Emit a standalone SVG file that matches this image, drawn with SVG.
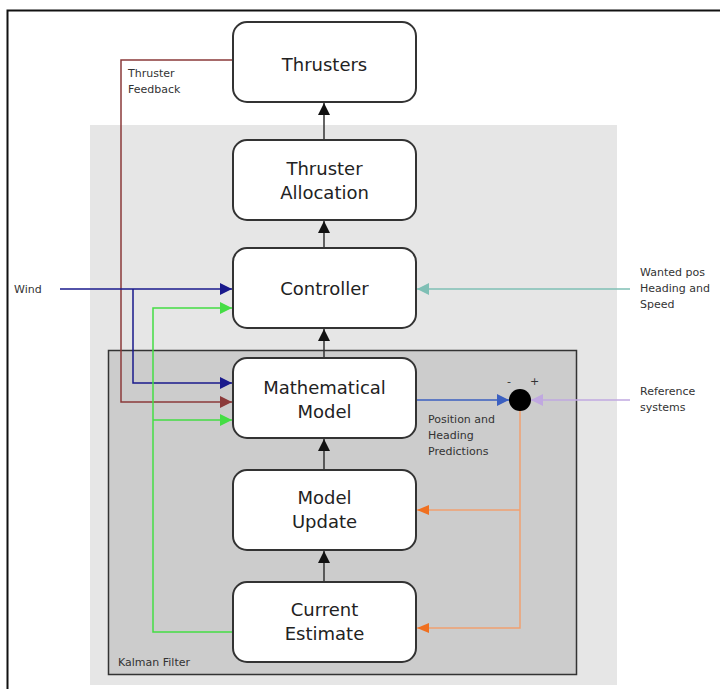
<svg xmlns="http://www.w3.org/2000/svg" width="720" height="689" viewBox="0 0 720 689">
<defs>
<style>
.node rect{fill:#fff;stroke:#333;stroke-width:2}
.node text{font-family:"DejaVu Sans",sans-serif;font-size:18px;fill:#222;text-anchor:middle}
.lbl{font-family:"DejaVu Sans",sans-serif;font-size:11px;fill:#333}
.c{fill:none;stroke-width:1.5}
</style>
<marker id="ak" viewBox="0 0 10 10" refX="10" refY="5" markerWidth="12" markerHeight="12" markerUnits="userSpaceOnUse" orient="auto"><path d="M0,0L10,5L0,10z" fill="#111"/></marker>
<marker id="ab" viewBox="0 0 10 10" refX="10" refY="5" markerWidth="12" markerHeight="12" markerUnits="userSpaceOnUse" orient="auto"><path d="M0,0L10,5L0,10z" fill="#1a1a8c"/></marker>
<marker id="ar" viewBox="0 0 10 10" refX="10" refY="5" markerWidth="12" markerHeight="12" markerUnits="userSpaceOnUse" orient="auto"><path d="M0,0L10,5L0,10z" fill="#8b3a3a"/></marker>
<marker id="ag" viewBox="0 0 10 10" refX="10" refY="5" markerWidth="12" markerHeight="12" markerUnits="userSpaceOnUse" orient="auto"><path d="M0,0L10,5L0,10z" fill="#44dd44"/></marker>
<marker id="at" viewBox="0 0 10 10" refX="10" refY="5" markerWidth="12" markerHeight="12" markerUnits="userSpaceOnUse" orient="auto"><path d="M0,0L10,5L0,10z" fill="#7fbfb5"/></marker>
<marker id="abl" viewBox="0 0 10 10" refX="10" refY="5" markerWidth="12" markerHeight="12" markerUnits="userSpaceOnUse" orient="auto"><path d="M0,0L10,5L0,10z" fill="#3b5fc0"/></marker>
<marker id="ap" viewBox="0 0 10 10" refX="10" refY="5" markerWidth="12" markerHeight="12" markerUnits="userSpaceOnUse" orient="auto"><path d="M0,0L10,5L0,10z" fill="#c0a8e0"/></marker>
<marker id="ao" viewBox="0 0 10 10" refX="10" refY="5" markerWidth="12" markerHeight="12" markerUnits="userSpaceOnUse" orient="auto"><path d="M0,0L10,5L0,10z" fill="#f07020"/></marker>
</defs>
<rect width="720" height="689" fill="#fff"/>
<path d="M7.5,689V10.5H720" fill="none" stroke="#111" stroke-width="2"/>
<rect x="90" y="125" width="527" height="560" fill="#e6e6e6"/>
<rect x="108.5" y="350.5" width="468" height="324" fill="#cccccc" stroke="#333" stroke-width="1.5"/>
<text class="lbl" x="118" y="666">Kalman Filter</text>

<g id="connectors">
<path class="c" d="M324,140V103" stroke="#333" marker-end="url(#ak)"/>
<path class="c" d="M324,248V221" stroke="#333" marker-end="url(#ak)"/>
<path class="c" d="M324,358V329" stroke="#333" marker-end="url(#ak)"/>
<path class="c" d="M324,470V439" stroke="#333" marker-end="url(#ak)"/>
<path class="c" d="M324,582V551" stroke="#333" marker-end="url(#ak)"/>
<path class="c" d="M233,60H121V402H232" stroke="#8b3a3a" marker-end="url(#ar)"/>
<path class="c" d="M60,289H232" stroke="#1a1a8c" marker-end="url(#ab)"/>
<path class="c" d="M133,289V383H232" stroke="#1a1a8c" marker-end="url(#ab)"/>
<path class="c" d="M233,632H153V308H232" stroke="#44dd44" marker-end="url(#ag)"/>
<path class="c" d="M153,420H232" stroke="#44dd44" marker-end="url(#ag)"/>
<path class="c" d="M630,289H417" stroke="#7fbfb5" marker-end="url(#at)"/>
<path class="c" d="M416,400H509" stroke="#3b5fc0" marker-end="url(#abl)"/>
<path class="c" d="M630,400H531" stroke="#c0a8e0" marker-end="url(#ap)"/>
<path class="c" d="M520,410V628H417" stroke="#f0a070"/>
<path class="c" d="M520,510H417" stroke="#f0a070"/>
<path d="M429,505L417,510L429,515z" fill="#f07020"/>
<path d="M429,623L417,628L429,633z" fill="#f07020"/>
<circle cx="520" cy="400" r="11" fill="#000"/>
<text class="lbl" x="507" y="385">-</text>
<text class="lbl" x="530" y="385" font-size="13">+</text>
</g>

<g id="thrusters" class="node"><rect x="233" y="22" width="183" height="80" rx="14"/><text x="324.5" y="71">Thrusters</text></g>
<g id="allocation" class="node"><rect x="233" y="140" width="183" height="80" rx="14"/><text x="324.5" y="175">Thruster</text><text x="324.5" y="199">Allocation</text></g>
<g id="controller" class="node"><rect x="233" y="248" width="183" height="80" rx="14"/><text x="324.5" y="295">Controller</text></g>
<g id="model" class="node"><rect x="233" y="358" width="183" height="80" rx="14"/><text x="324.5" y="394">Mathematical</text><text x="324.5" y="418">Model</text></g>
<g id="update" class="node"><rect x="233" y="470" width="183" height="80" rx="14"/><text x="324.5" y="504">Model</text><text x="324.5" y="528">Update</text></g>
<g id="estimate" class="node"><rect x="233" y="582" width="183" height="80" rx="14"/><text x="324.5" y="616">Current</text><text x="324.5" y="640">Estimate</text></g>

<text class="lbl" x="14" y="293">Wind</text>
<text class="lbl" x="128" y="77">Thruster</text>
<text class="lbl" x="128" y="93">Feedback</text>
<text class="lbl" x="640" y="276">Wanted pos</text>
<text class="lbl" x="640" y="292">Heading and</text>
<text class="lbl" x="640" y="308">Speed</text>
<text class="lbl" x="640" y="395">Reference</text>
<text class="lbl" x="640" y="411">systems</text>
<text class="lbl" x="428" y="423">Position and</text>
<text class="lbl" x="428" y="439">Heading</text>
<text class="lbl" x="428" y="455">Predictions</text>
</svg>
